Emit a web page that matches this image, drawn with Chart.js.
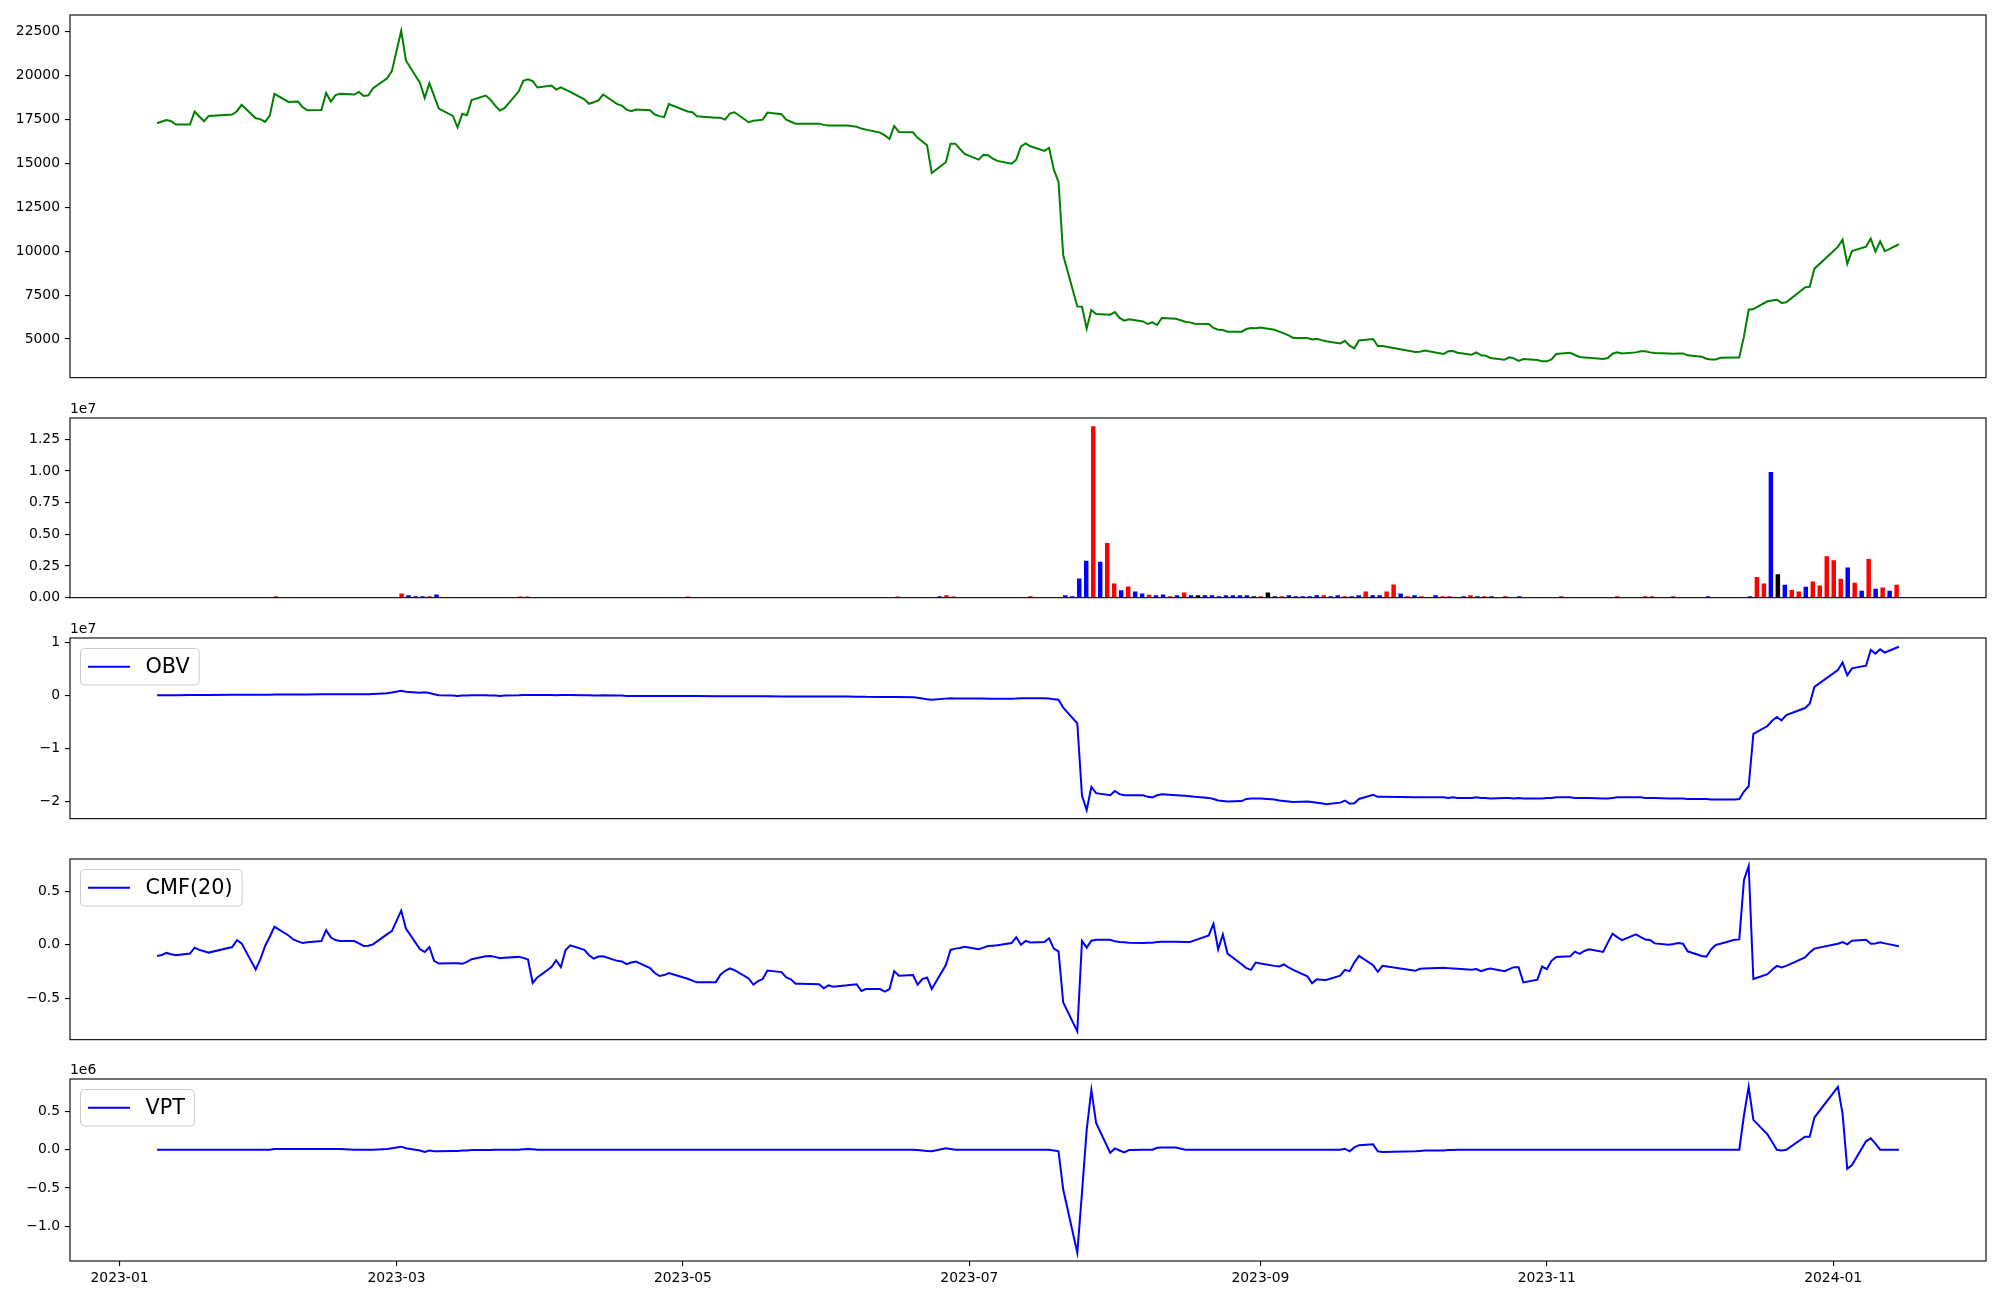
<!DOCTYPE html>
<html>
<head>
<meta charset="utf-8">
<script src="https://cdn.jsdelivr.net/npm/chart.js@4.4.0/dist/chart.umd.min.js"></script>
<style>
  html, body { margin: 0; padding: 0; background: #fff; }
  #wrap { position: relative; width: 2000px; height: 1300px; overflow: hidden; background: #fff; }
  #wrap canvas { position: absolute; left: 0; }
</style>
</head>
<body>
<div id="wrap"></div>
<script>
// ---- calendar: KRX trading days 2023-01-09 .. 2024-01-15 ----
const firstDay = '2023-01-09';
const lastDay = '2024-01-15';
const holidays = ['2023-01-23','2023-01-24','2023-03-01','2023-05-01','2023-05-05','2023-05-29',
  '2023-06-06','2023-08-15','2023-09-28','2023-09-29','2023-10-02','2023-10-03','2023-10-09',
  '2023-12-25','2023-12-29','2024-01-01'];

const xTickLabels = ['2023-01','2023-03','2023-05','2023-07','2023-09','2023-11','2024-01'];

// ---- close price (one value per trading day, grouped by month / week) ----
const price = [
  17290,17390,17480,17410,17220, 17220,17960,17680,17410,17710, 17790,17980,18340, 17580,17530,
  17370,17730,18970, 18510,18520,18530,18210,18030, 18050,19020,18530,18900,18970, 18930,19080,18850,18890,19290, 19860,20260,
  22560,20870, 19590,18740,19570,18850,18130, 17710,17050,17830,17750,18620, 18870,18640,18300,18020,18150, 19100,19710,19800,19690,19330,
  19440,19210,19340,19210,19080, 18660,18400,18490,18590,18930, 18380,18300,18070,17980,18070, 18030,17790,17700,17640,18380,
  17960,17920,17690, 17610,17600,17500,17840,17920, 17350,17430,17470,17500,17900, 17810,17500,17380,17270,17270, 17270,17200,
  17160,17160, 17160,17100,16990,16930, 16760,16600,16400,17140,16800, 16780,16460,16250,16040,14460, 15070,16130,16130,15830,15550,
  15220,15490,15470,15280,15150, 14990,15220,15980,16150,15980, 15720,15890,14650,13950,9770, 6860,6840,5590,6650,6425, 6390,
  6540,6200,6045,6120, 6000,5855,5950,5800,6200, 6160,5990,5950,5875, 5855,5630,5530,5510,5420, 5420,5570,5630,5610,
  5650, 5530,5420,5320,5210,5060, 5060,4980,5020,4940,4870, 4750,4900,4620,4470,4920, 5000,4600,4600,
  4260,4280,4350, 4145,4300,4320,4220, 4110,4240,4070,4050,3920, 3820,3955,3900,3750,3860, 3800,3730,
  3730,3840,4145, 4220,4090,3975,3955,3935, 3860,3915,4165,4240,4180, 4240,4300,4300,4240,4200, 4180,4165,4180,4180,
  4070, 3990,3880,3840,3840,3935, 3955,3955,5150,6670,6710, 7150,7200,7240,7060,7100, 7945,7980,9010,
  10250,10660,9290,10010, 10260,10720,9980,10570,10000, 10400
];

// ---- volume, millions of shares ----
const volume = [
  0,0,0,0,0, 0,0,0,0,0, 0,0,0, 0,0,
  0,0,0.08, 0,0,0,0,0, 0,0,0,0,0, 0,0,0,0,0, 0,0,
  0.31,0.16, 0.08,0.08,0.08,0.23,0, 0,0,0,0,0, 0,0,0,0,0, 0.06,0.06,0,0,0,
  0,0,0,0,0, 0,0,0,0,0, 0,0,0,0,0, 0,0,0,0,0.06,
  0,0,0, 0,0,0,0,0, 0,0,0,0,0, 0,0,0,0,0, 0,0,
  0,0, 0,0,0,0, 0,0,0,0.06,0, 0,0,0,0,0.08, 0.16,0.06,0,0,0,
  0,0,0,0,0, 0,0,0.08,0,0, 0,0,0.16,0.08,1.48, 2.89,13.5,2.81,4.29,1.09, 0.55,
  0.86,0.47,0.31,0.21, 0.16,0.23,0.08,0.16,0.39, 0.16,0.16,0.16,0.16, 0.08,0.16,0.16,0.16,0.16, 0.08,0.08,0.39,0.08,
  0.08, 0.16,0.08,0.08,0.08,0.16, 0.16,0.08,0.16,0.08,0.08, 0.16,0.47,0.16,0.16,0.47, 1.01,0.31,0.08,
  0.16,0.08,0, 0.16,0.08,0.08,0, 0.08,0.16,0.08,0.08,0.08, 0,0.08,0,0.08,0, 0,0,
  0,0,0.08, 0,0,0,0,0, 0,0,0.08,0,0, 0,0.08,0.08,0,0, 0.08,0,0,0,
  0, 0.08,0,0,0,0, 0,0.08,1.6,1.1,9.9, 1.83,0.99,0.58,0.47,0.84, 1.25,0.94,3.24,
  2.93,1.46,2.35,1.15, 0.52,3.03,0.68,0.78,0.52, 0.99
];
// bar colour code per day: r = red, b = blue, k = black, . = no bar
const volSide = [
  '...............',
  '..r.................',
  'rbbbrb...........rr...',
  '...................r',
  '....................',
  '.........r.....brr...',
  '.......r....bbbbrbrrb',
  'rbbrbbrbrbkbbbbbbbkrkb',
  'rbbbbbrbbrbbrbbrrbr',
  'br.brr.brbrb.r.b...',
  '..r.......r...rr..r...',
  '.b.....brrbkbrrbrrr',
  'rrbrbrbrbr'
].join('');
// bars are drawn on an even grid, this many days apart
const barStep = 1.488;

// ---- OBV, millions ----
const obv = [
  0,0,0,0,0, 0.05,0.05,0.05,0.05,0.05, 0.1,0.1,0.1, 0.1,0.1,
  0.1,0.1,0.15, 0.15,0.15,0.15,0.15,0.15, 0.2,0.2,0.2,0.2,0.2, 0.2,0.2,0.2,0.2,0.25, 0.4,0.55,
  0.85,0.7, 0.5,0.6,0.45,0.2,0.0, -0.05,-0.1,-0.05,-0.05,0.0, 0.0,-0.05,-0.05,-0.1,-0.05, 0.0,0.05,0.08,0.05,0.05,
  0.05,0.02,0.05,0.05,0.05, 0.0,0.0,-0.05,-0.05,0.0, -0.05,-0.05,-0.1,-0.1,-0.1, -0.1,-0.1,-0.1,-0.12,-0.12,
  -0.12,-0.12,-0.12, -0.15,-0.15,-0.15,-0.15,-0.15, -0.18,-0.18,-0.18,-0.18,-0.18, -0.2,-0.2,-0.2,-0.2,-0.2, -0.2,-0.2,
  -0.2,-0.2, -0.22,-0.25,-0.25,-0.28, -0.3,-0.3,-0.3,-0.3,-0.32, -0.35,-0.45,-0.6,-0.75,-0.85, -0.62,-0.55,-0.6,-0.6,-0.6,
  -0.6,-0.6,-0.62,-0.62,-0.62, -0.62,-0.6,-0.55,-0.55,-0.55, -0.55,-0.6,-0.76,-0.84,-2.32, -5.3,-19.0,-21.7,-17.3,-18.5, -18.9,
  -18.1,-18.7,-18.9,-18.9, -18.9,-19.2,-19.3,-18.9,-18.7, -18.9,-19.0,-19.1,-19.2, -19.4,-19.6,-19.9,-20.0,-20.1, -20.0,-19.6,-19.5,-19.5,
  -19.5, -19.7,-19.9,-20.0,-20.1,-20.2, -20.1,-20.2,-20.3,-20.4,-20.6, -20.3,-19.9,-20.5,-20.4,-19.6, -18.8,-19.2,-19.2,
  -19.3,-19.3,-19.3, -19.3,-19.4,-19.3,-19.4, -19.4,-19.3,-19.4,-19.4,-19.5, -19.4,-19.4,-19.5,-19.4,-19.5, -19.5,-19.5,
  -19.4,-19.4,-19.3, -19.3,-19.4,-19.4,-19.4,-19.4, -19.5,-19.5,-19.4,-19.3,-19.3, -19.3,-19.3,-19.4,-19.4,-19.4, -19.5,-19.5,-19.5,-19.5,
  -19.6, -19.6,-19.6,-19.7,-19.7,-19.7, -19.7,-19.6,-18.2,-17.2,-7.3, -5.8,-4.8,-4.1,-4.75,-3.75, -2.4,-1.6,1.6,
  4.8,6.2,3.8,5.1, 5.6,8.6,7.9,8.7,8.1, 9.2
];

// ---- CMF(20) ----
const cmf = [
  -0.105,-0.096,-0.077,-0.090,-0.099, -0.083,-0.028,-0.049,-0.062,-0.074, -0.022,0.043,0.012, -0.231,-0.136,
  -0.012,0.074,0.167, 0.086,0.049,0.031,0.015,0.022, 0.034,0.136,0.068,0.043,0.034, 0.034,0.012,-0.012,-0.009,0.003, 0.099,0.127,
  0.318,0.151, -0.043,-0.068,-0.022,-0.151,-0.176, -0.173,-0.173,-0.179,-0.160,-0.136, -0.108,-0.105,-0.114,-0.127,-0.123, -0.114,-0.123,-0.139,-0.358,-0.306,
  -0.210,-0.145,-0.210,-0.049,-0.006, -0.049,-0.099,-0.130,-0.111,-0.108, -0.151,-0.157,-0.182,-0.167,-0.157, -0.219,-0.265,-0.293,-0.284,-0.265,
  -0.318,-0.336,-0.352, -0.350,-0.281,-0.244,-0.222,-0.238, -0.315,-0.373,-0.340,-0.321,-0.241, -0.256,-0.306,-0.324,-0.364,-0.364, -0.370,-0.407,
  -0.380,-0.392, -0.380,-0.370,-0.432,-0.414, -0.414,-0.438,-0.414,-0.247,-0.290, -0.284,-0.373,-0.321,-0.306,-0.414, -0.191,-0.049,-0.037,-0.031,-0.019,
  -0.043,-0.028,-0.012,-0.009,-0.006, 0.015,0.070,0.000,0.035,0.020, 0.025,0.060,-0.037,-0.062,-0.540, -0.810,0.034,-0.028,0.037,0.046, 0.046,
  0.031,0.025,0.022,0.019, 0.015,0.017,0.019,0.025,0.028, 0.028,0.025,0.025,0.040, 0.086,0.194,-0.043,0.096,-0.083, -0.182,-0.219,-0.235,-0.167,
  -0.176, -0.198,-0.204,-0.185,-0.213,-0.235, -0.296,-0.361,-0.324,-0.327,-0.330, -0.290,-0.235,-0.247,-0.167,-0.105, -0.191,-0.253,-0.198,
  -0.244,-0.225,-0.222, -0.216,-0.219,-0.222,-0.225, -0.235,-0.228,-0.247,-0.232,-0.222, -0.247,-0.228,-0.210,-0.210,-0.352, -0.327,-0.204,
  -0.228,-0.151,-0.114, -0.108,-0.065,-0.086,-0.059,-0.043, -0.068,0.019,0.102,0.071,0.043, 0.096,0.071,0.049,0.043,0.012, 0.000,0.006,0.015,0.009,
  -0.062, -0.105,-0.111,-0.043,-0.003,0.009, 0.046,0.049,0.605,0.735,-0.321, -0.275,-0.235,-0.198,-0.213,-0.198, -0.120,-0.074,-0.037,
  0.009,0.025,0.003,0.037, 0.046,0.009,0.012,0.022,0.012, -0.015
];

// ---- VPT, millions ----
const vpt = [
  0,0,0,0,0, 0,0,0,0,0, 0,0,0, 0,0,
  0,0,0.01, 0.01,0.01,0.01,0.01,0.01, 0.01,0.01,0.01,0.01,0.01, 0,0,0,0,0, 0.01,0.02,
  0.04,0.02, -0.01,-0.03,-0.01,-0.02,-0.02, -0.015,-0.015,-0.01,-0.01,-0.005, -0.005,-0.005,0,0,0, 0,0.005,0.01,0.005,0,
  0,0,0,0,0, 0,0,0,0,0, 0,0,0,0,0, 0,0,0,0,0,
  0,0,0, 0,0,0,0,0, 0,0,0,0,0, 0,0,0,0,0, 0,0,
  0,0, 0,0,0,0, 0,0,0,0,0, 0,-0.005,-0.01,-0.015,-0.02, 0.02,0.01,0,0,0,
  0,0,0,0,0, 0,0,0,0,0, 0,0,-0.01,-0.02,-0.52, -1.344,-0.56,0.26,0.78,0.35, -0.04,
  0.017,-0.01,-0.035,-0.005, 0,0,0,0.026,0.03, 0.03,0,0,0, 0,0,0,0,0, 0,0,0,0,
  0, 0,0,0,0,0, 0,0,0,0,0, 0,0.013,-0.02,0.03,0.06, 0.07,-0.02,-0.03,
  -0.02,-0.015,-0.01, -0.01,-0.005,-0.005,0, 0,0,0,0,0, 0,0,0,0,0, 0,0,
  0,0,0, 0,0,0,0,0, 0,0,0,0,0, 0,0,0,0,0, 0,0,0,0,
  0, 0,0,0,0,0, 0,0,0.45,0.82,0.39, 0.2,0.1,0,-0.01,0, 0.17,0.17,0.42,
  0.82,0.47,-0.25,-0.2, 0.11,0.15,0.08,0,0, 0
];

// ---- y ticks ----
const priceTicks = [5000,7500,10000,12500,15000,17500,20000,22500];
const volTicks = [0,0.25,0.5,0.75,1.0,1.25];      // x 1e7
const obvTicks = [-2,-1,0,1];                      // x 1e7
const cmfTicks = [-0.5,0,0.5];
const vptTicks = [-1.0,-0.5,0,0.5];                // x 1e6

// ---------------------------------------------------------------
const DAY0 = Date.UTC(2023, 0, 1);
const MS = 86400000;
const toDay = s => (Date.UTC(+s.slice(0,4), +s.slice(5,7) - 1, +(s.slice(8,10) || 1)) - DAY0) / MS;

const tradeDays = [];
for (let d = toDay(firstDay); d <= toDay(lastDay); d++) {
  const dt = new Date(DAY0 + d * MS);
  const wd = dt.getUTCDay();
  if (wd === 0 || wd === 6 || holidays.includes(dt.toISOString().slice(0,10))) continue;
  tradeDays.push(d);
}
const N = tradeDays.length;
[['price',price],['volume',volume],['obv',obv],['cmf',cmf],['vpt',vpt],['volSide',volSide]].forEach(([n,a]) => {
  if (a.length !== N) throw new Error(n + ' has ' + a.length + ' values, expected ' + N);
});

const xTickDays = xTickLabels.map(toDay);
const span = tradeDays[N-1] - tradeDays[0];
const xMin = tradeDays[0] - 0.05 * span;
const xMax = tradeDays[N-1] + 0.05 * span;
const barX = volume.map((_, i) => tradeDays[0] + i * barStep);

const FONT = '"DejaVu Sans", sans-serif';
const MINUS = '\u2212';
const fmt = (v, dec) => (v < 0 ? MINUS : '') + Math.abs(v).toFixed(dec);
const sideColor = { r: '#ff0000', b: '#0000ff', k: '#000000', '.': 'rgba(0,0,0,0)' };

const wrap = document.getElementById('wrap');
function addCanvas(top, height) {
  const c = document.createElement('canvas');
  c.width = 2000; c.height = height;
  c.style.top = top + 'px';
  c.style.width = '2000px'; c.style.height = height + 'px';
  wrap.appendChild(c);
  return c;
}

// box around the axes, the "1e7" offset text and a matplotlib-like legend
const panelFrame = {
  id: 'panelFrame',
  afterDraw(chart, args, o) {
    const { ctx, chartArea: a } = chart;
    ctx.save();
    if (o.legend) {
      ctx.font = '20.8px ' + FONT;
      const tw = ctx.measureText(o.legend.text).width;
      const bx = a.left + 10.5, by = a.top + 10.5, bw = 65 + tw + 9.5, bh = 36.5;
      ctx.beginPath();
      ctx.roundRect(bx, by, bw, bh, 4);
      ctx.fillStyle = 'rgba(255,255,255,0.8)';
      ctx.fill();
      ctx.strokeStyle = '#cccccc';
      ctx.lineWidth = 1;
      ctx.stroke();
      ctx.beginPath();
      ctx.moveTo(bx + 7.5, by + bh / 2);
      ctx.lineTo(bx + 49.5, by + bh / 2);
      ctx.strokeStyle = o.legend.color;
      ctx.lineWidth = 2;
      ctx.stroke();
      ctx.fillStyle = '#000';
      ctx.textAlign = 'left';
      ctx.textBaseline = 'middle';
      ctx.fillText(o.legend.text, bx + 65, by + bh / 2 + 1);
    }
    ctx.strokeStyle = '#000';
    ctx.lineWidth = 1.1;
    ctx.strokeRect(a.left, a.top, a.right - a.left, a.bottom - a.top);
    if (o.offsetText) {
      ctx.font = '13.9px ' + FONT;
      ctx.fillStyle = '#000';
      ctx.textAlign = 'left';
      ctx.textBaseline = 'alphabetic';
      ctx.fillText(o.offsetText, a.left, a.top - 5);
    }
    ctx.restore();
  }
};

function panel(p) {
  const padTop = Math.min(p.plotTop, 24);
  const xAxisH = p.showX ? 1300 - p.plotBottom : 0;
  const padBottom = p.showX ? 0 : 12;
  const height = padTop + (p.plotBottom - p.plotTop) + xAxisH + padBottom;
  const canvas = addCanvas(p.plotTop - padTop, height);
  return new Chart(canvas, {
    type: p.type,
    data: { datasets: p.datasets },
    options: {
      responsive: false, animation: false, devicePixelRatio: 1, events: [],
      layout: { padding: { top: padTop, bottom: padBottom, left: 0, right: 14 } },
      plugins: {
        legend: { display: false }, tooltip: { enabled: false },
        panelFrame: { legend: p.legend, offsetText: p.offsetText }
      },
      scales: {
        x: {
          type: 'linear', min: xMin, max: xMax, offset: false, display: !!p.showX,
          grid: { drawOnChartArea: false, drawTicks: true, tickLength: 5, color: '#000', lineWidth: 1.1, offset: false },
          border: { display: false },
          afterBuildTicks: s => { s.ticks = xTickDays.map(v => ({ value: v })); },
          afterFit: s => { s.height = xAxisH; },
          ticks: {
            autoSkip: false, maxRotation: 0, padding: 4.5, color: '#000',
            font: { family: FONT, size: 13.9 },
            callback: v => xTickLabels[xTickDays.indexOf(v)] ?? ''
          }
        },
        y: {
          type: 'linear', min: p.yMin, max: p.yMax,
          grid: { drawOnChartArea: false, drawTicks: true, tickLength: 5, color: '#000', lineWidth: 1.1 },
          border: { display: false },
          afterBuildTicks: s => { s.ticks = p.yTicks.map(v => ({ value: v * p.yScale })); },
          afterFit: s => { s.width = 70; },
          ticks: {
            padding: 5, color: '#000', font: { family: FONT, size: 13.9 },
            callback: (v, i) => p.yLabels[i]
          }
        }
      }
    },
    plugins: [panelFrame]
  });
}

const lineSet = (vals, mult, color) => ({
  type: 'line',
  data: vals.map((v, i) => ({ x: tradeDays[i], y: v * mult })),
  borderColor: color, borderWidth: 2, pointRadius: 0, tension: 0, fill: false
});

// price
panel({
  type: 'line', plotTop: 15, plotBottom: 379, yMin: 2800, yMax: 23460, yScale: 1,
  yTicks: priceTicks, yLabels: priceTicks.map(v => String(v)),
  datasets: [lineSet(price, 1, '#008000')]
});

// volume
panel({
  type: 'bar', plotTop: 418, plotBottom: 599, yMin: 0, yMax: 1.418e7, yScale: 1e7,
  yTicks: volTicks, yLabels: volTicks.map(v => fmt(v, 2)), offsetText: '1e7',
  datasets: [{
    type: 'bar',
    data: volume.map((v, i) => ({ x: barX[i], y: v * 1e6 })),
    backgroundColor: volSide.split('').map(c => sideColor[c]),
    borderWidth: 0, barThickness: 3.8, grouped: false
  }]
});

// OBV
panel({
  type: 'line', plotTop: 638, plotBottom: 820, yMin: -2.333e7, yMax: 1.085e7, yScale: 1e7,
  yTicks: obvTicks, yLabels: obvTicks.map(v => fmt(v, 0)), offsetText: '1e7',
  legend: { text: 'OBV', color: '#0000ff' },
  datasets: [lineSet(obv, 1e6, '#0000ff')]
});

// CMF
panel({
  type: 'line', plotTop: 859, plotBottom: 1041, yMin: -0.887, yMax: 0.80, yScale: 1,
  yTicks: cmfTicks, yLabels: cmfTicks.map(v => fmt(v, 1)),
  legend: { text: 'CMF(20)', color: '#0000ff' },
  datasets: [lineSet(cmf, 1, '#0000ff')]
});

// VPT
panel({
  type: 'line', plotTop: 1079, plotBottom: 1261, yMin: -1.452e6, yMax: 0.923e6, yScale: 1e6,
  yTicks: vptTicks, yLabels: vptTicks.map(v => fmt(v, 1)), offsetText: '1e6',
  legend: { text: 'VPT', color: '#0000ff' }, showX: true,
  datasets: [lineSet(vpt, 1e6, '#0000ff')]
});
</script>
</body>
</html>
